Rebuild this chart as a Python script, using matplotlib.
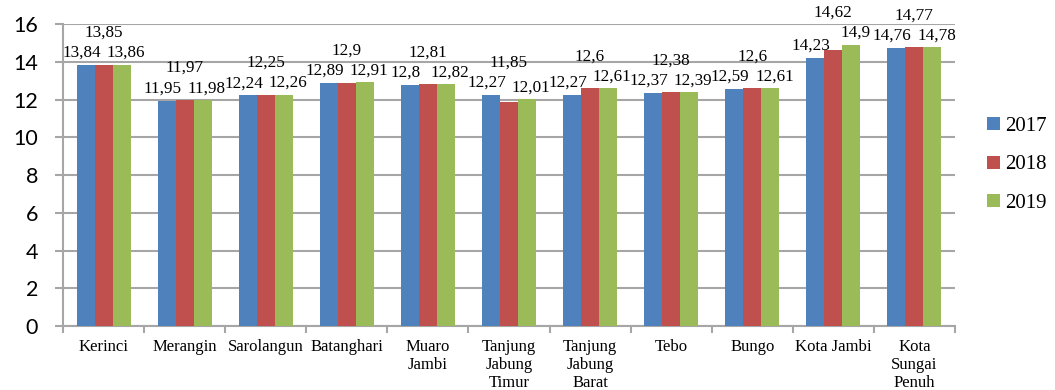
import matplotlib.pyplot as plt
import numpy as np
from matplotlib.patches import Patch

# ── Data ──────────────────────────────────────────────────────────────────────
regions = ["Kerinci", "Merangin", "Sarolangun", "Batanghari", "Muaro\nJambi",
           "Tanjung\nJabung\nTimur", "Tanjung\nJabung\nBarat", "Tebo", "Bungo",
           "Kota Jambi", "Kota\nSungai\nPenuh"]
years = ["2017", "2018", "2019"]
v2017 = [13.84, 11.95, 12.24, 12.89, 12.80, 12.27, 12.27, 12.37, 12.59, 14.23, 14.76]
v2018 = [13.85, 11.97, 12.25, 12.90, 12.81, 11.85, 12.60, 12.38, 12.60, 14.62, 14.77]
v2019 = [13.86, 11.98, 12.26, 12.91, 12.82, 12.01, 12.61, 12.39, 12.61, 14.90, 14.78]
yticks = [0, 2, 4, 6, 8, 10, 12, 14, 16]

colors = ["#4f81bd", "#c0504d", "#9bbb59"]
grid_c = "#a6a6a6"

def fmt(v):
    return f"{v:g}".replace(".", ",")

fig = plt.figure(figsize=(10.55, 3.9), dpi=100)
ax = fig.add_axes([0.0597, 0.164, 0.8455, 0.774])

x = np.arange(len(regions))
w = 0.222
series = [v2017, v2018, v2019]
for i, vals in enumerate(series):
    ax.bar(x + (i - 1) * w, vals, w, color=colors[i], zorder=3,
           edgecolor="none")

# value labels: outer bars just above (nudged outward), middle bar lifted
# above the whole group
for j in range(len(regions)):
    top = max(v2017[j], v2018[j], v2019[j])
    for i, vals in enumerate(series):
        if i == 1:
            y, dx, dy = top, 0, 23
        else:
            y, dx, dy = vals[j], (i - 1) * 3, 8.5
        ax.annotate(fmt(vals[j]), (x[j] + (i - 1) * w, y),
                    xytext=(dx, dy), textcoords="offset points",
                    ha="center", va="center", fontsize=12.3,
                    family="Liberation Serif", zorder=4)

ax.set_xlim(-0.5, len(regions) - 0.5)
ax.set_ylim(0, 16)
ax.set_yticks(yticks)
ax.set_yticklabels([str(t) for t in yticks], family="Lato", fontsize=15.5)
ax.yaxis.grid(True, color=grid_c, linewidth=1.5, zorder=0)
ax.tick_params(axis="y", length=6, width=1.5, color=grid_c, pad=12)

# category labels between boundary ticks
ax.set_xticks(np.arange(len(regions) + 1) - 0.5)
ax.set_xticklabels([])
ax.set_xticks(x, minor=True)
ax.set_xticklabels(regions, minor=True, family="Liberation Serif",
                   fontsize=12, linespacing=1.15)
ax.tick_params(axis="x", which="major", length=5, width=1.5, color=grid_c)
ax.tick_params(axis="x", which="minor", length=0, pad=9.5)

for s in ["top", "right"]:
    ax.spines[s].set_visible(False)
for s in ["left", "bottom"]:
    ax.spines[s].set_color(grid_c)
    ax.spines[s].set_linewidth(1.5)

handles = [Patch(facecolor=c, edgecolor="none") for c in colors]
fig.legend(handles, years, loc="center left", bbox_to_anchor=(0.936, 0.577),
           frameon=False, prop={"family": "Liberation Serif", "size": 15},
           handlelength=0.58, handleheight=0.58, handletextpad=0.25,
           labelspacing=0.95, borderpad=0, borderaxespad=0)

plt.savefig("out.png", dpi=100)
